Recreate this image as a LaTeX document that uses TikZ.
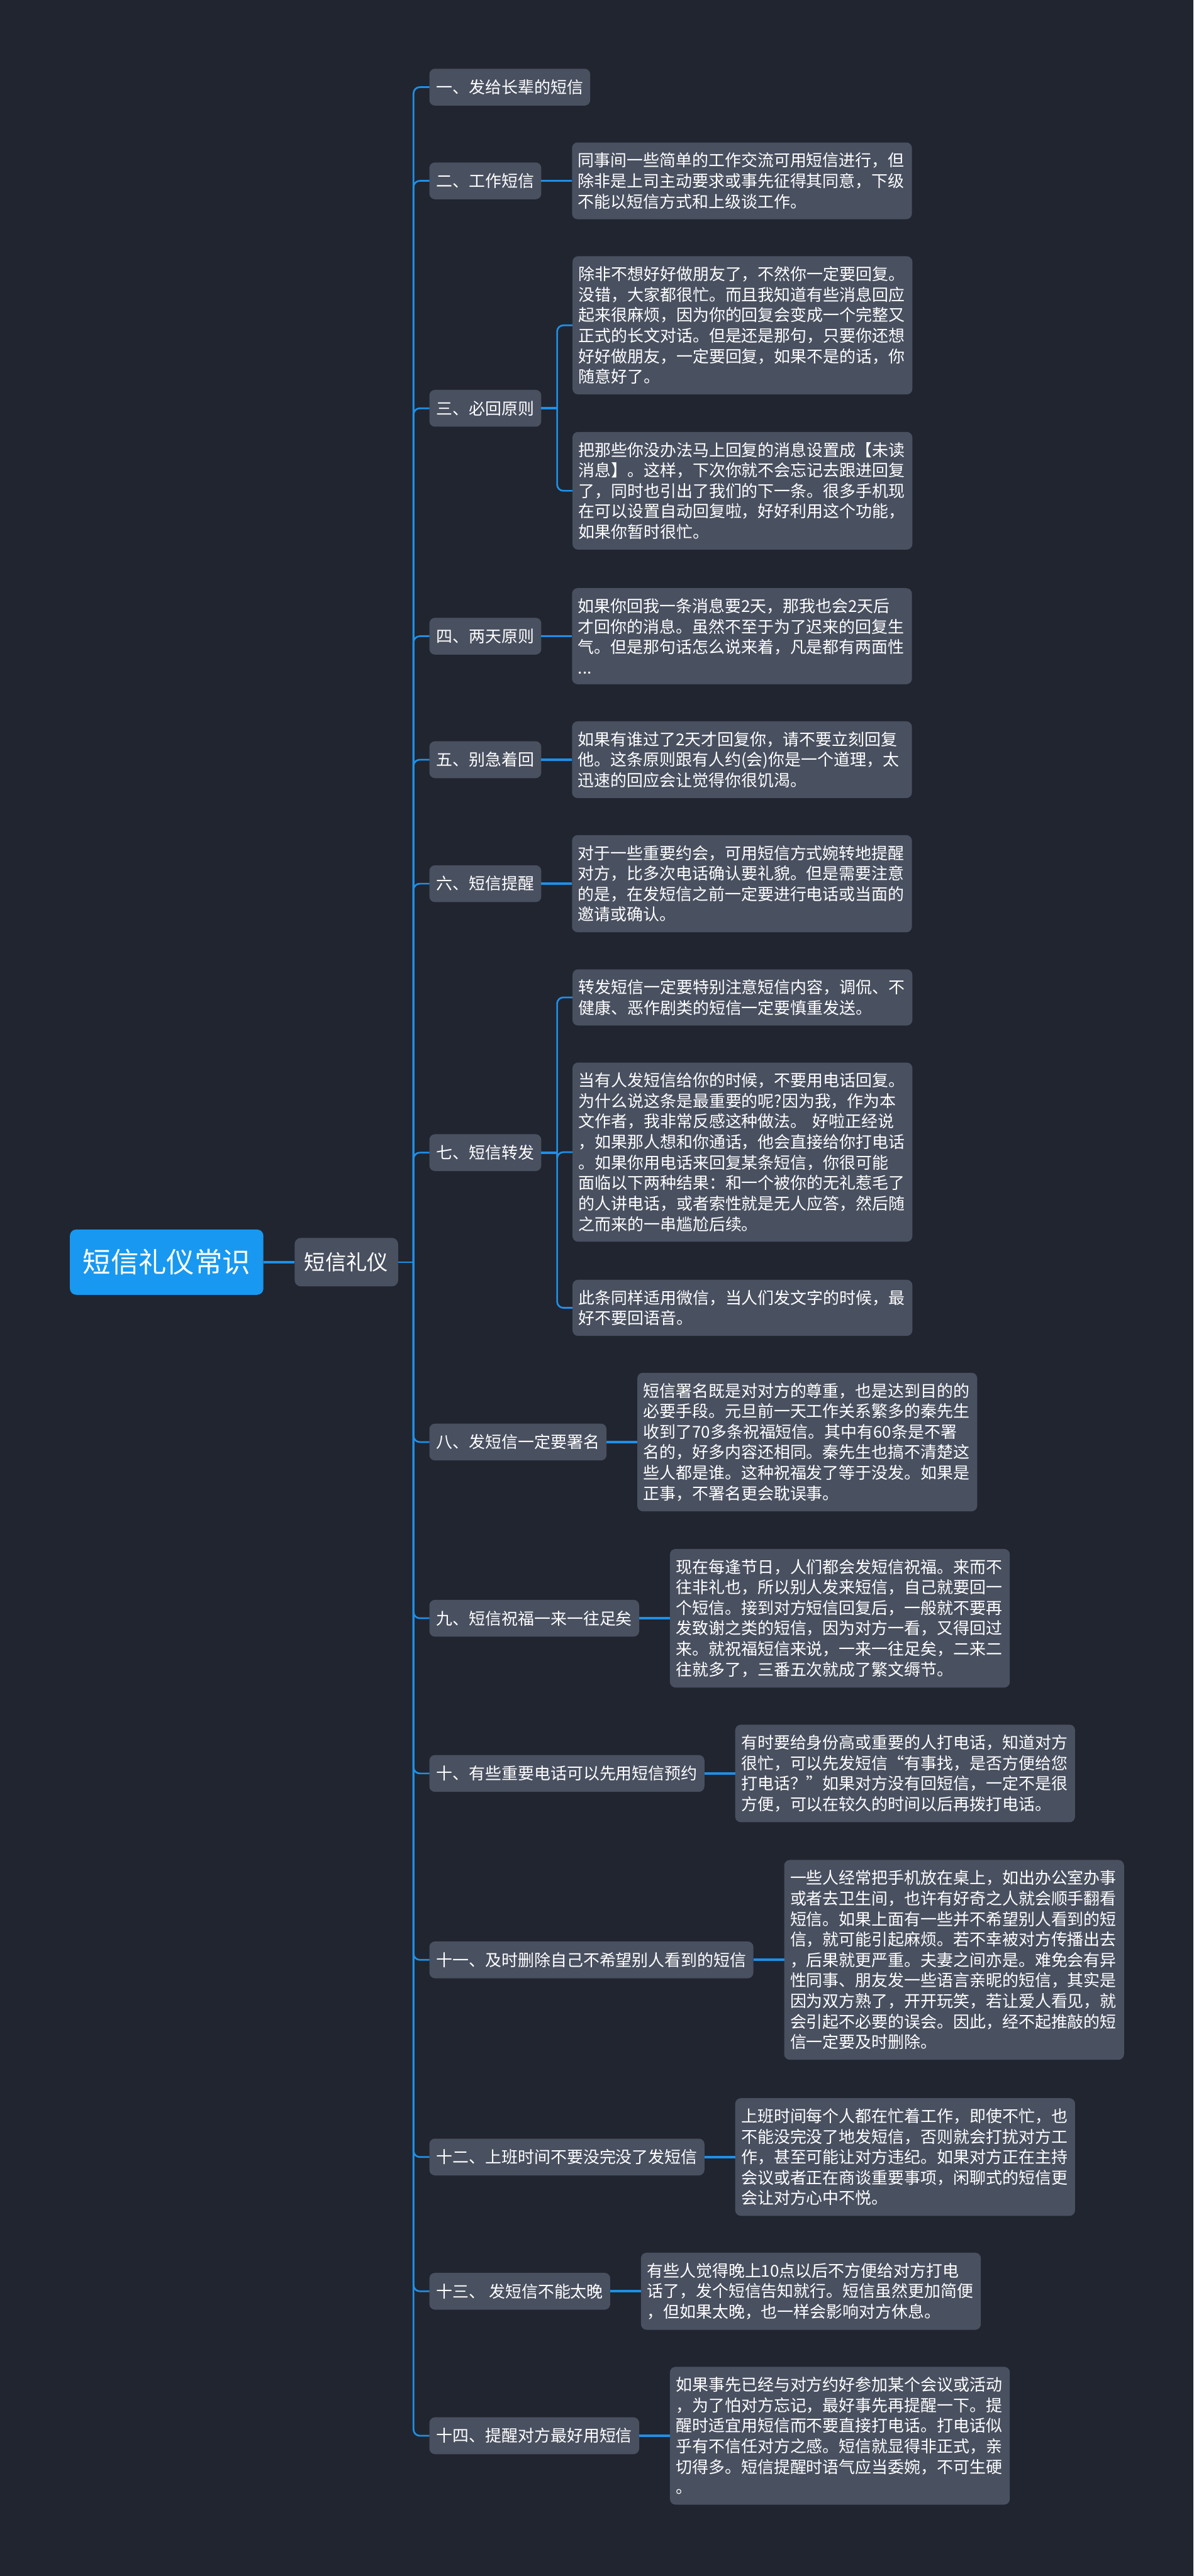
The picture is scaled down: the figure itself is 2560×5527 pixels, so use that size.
\documentclass[tikz,border=0pt]{standalone}
\usepackage{fontspec}
\newfontfamily\cjk{Noto Sans CJK SC}
\definecolor{bg}{RGB}{33,37,48}
\definecolor{boxc}{RGB}{73,80,96}
\definecolor{linec}{RGB}{30,144,230}
\definecolor{rootc}{RGB}{24,152,240}
\begin{document}
\begin{tikzpicture}[x=0.3pt,y=-0.3pt,
  every node/.style={inner sep=0pt, outer sep=0pt},
  rootbox/.style={fill=rootc, rounded corners=4pt, text=white, font=\cjk\fontsize{18}{22}\selectfont, minimum width=124.5pt, minimum height=42pt, anchor=west},
  secbox/.style={fill=boxc, rounded corners=4pt, text=white, font=\cjk\fontsize{13.5}{16}\selectfont, minimum width=66.6pt, minimum height=31.2pt, anchor=west},
  labbox/.style={fill=boxc, rounded corners=3.6pt, text=white, font=\cjk\fontsize{10.5}{13.2}\selectfont, inner xsep=4.5pt, minimum height=23.7pt, anchor=west},
  txtbox/.style={fill=boxc, rounded corners=3.6pt, text=white, font=\cjk\fontsize{10.5}{13.2}\selectfont, text width=211pt, align=left, inner xsep=3.85pt, inner ysep=6.6pt, anchor=west},
  trunk/.style={draw=linec, line width=1.1pt, rounded corners=4pt},
  twig/.style={draw=linec, line width=1.5pt},
  subtrunk/.style={draw=linec, line width=1.1pt, rounded corners=4pt},
]
\fill[bg] (0,0) rectangle (2560,5527);
\useasboundingbox (0,0) rectangle (2560,5527);

\node[rootbox] (root) at (150,2708) {短信礼仪常识};
\node[secbox] (sec) at (632,2708) {短信礼仪};
\coordinate (j) at (887,2708);

% level-2 labels
\node[labbox] (l1) at (921,187) {一、发给长辈的短信};
\node[labbox] (l2) at (921,388) {二、工作短信};
\node[labbox] (l3) at (921,876) {三、必回原则};
\node[labbox] (l4) at (921,1365) {四、两天原则};
\node[labbox] (l5) at (921,1630) {五、别急着回};
\node[labbox] (l6) at (921,1896) {六、短信提醒};
\node[labbox] (l7) at (921,2473) {七、短信转发};
\node[labbox] (l8) at (921,3094) {八、发短信一定要署名};
\node[labbox] (l9) at (921,3472) {九、短信祝福一来一往足矣};
\node[labbox] (l10) at (921,3805) {十、有些重要电话可以先用短信预约};
\node[labbox] (l11) at (921,4205) {十一、及时删除自己不希望别人看到的短信};
\node[labbox] (l12) at (921,4628) {十二、上班时间不要没完没了发短信};
\node[labbox] (l13) at (921,4916) {十三、 发短信不能太晚};
\node[labbox] (l14) at (921,5226) {十四、提醒对方最好用短信};

% contents
\node[txtbox] (c2) at ([xshift=19.8pt]l2.east) {同事间一些简单的工作交流可用短信进行，但\\除非是上司主动要求或事先征得其同意，下级\\不能以短信方式和上级谈工作。};
\node[txtbox] (c3a) at (1228,698) {除非不想好好做朋友了，不然你一定要回复。\\没错，大家都很忙。而且我知道有些消息回应\\起来很麻烦，因为你的回复会变成一个完整又\\正式的长文对话。但是还是那句，只要你还想\\好好做朋友，一定要回复，如果不是的话，你\\随意好了。};
\node[txtbox] (c3b) at (1228,1053) {把那些你没办法马上回复的消息设置成【未读\\消息】。这样，下次你就不会忘记去跟进回复\\了，同时也引出了我们的下一条。很多手机现\\在可以设置自动回复啦，好好利用这个功能，\\如果你暂时很忙。};
\node[txtbox] (c4) at ([xshift=19.8pt]l4.east) {如果你回我一条消息要2天，那我也会2天后\\才回你的消息。虽然不至于为了迟来的回复生\\气。但是那句话怎么说来着，凡是都有两面性\\...};
\node[txtbox] (c5) at ([xshift=19.8pt]l5.east) {如果有谁过了2天才回复你，请不要立刻回复\\他。这条原则跟有人约(会)你是一个道理，太\\迅速的回应会让觉得你很饥渴。};
\node[txtbox] (c6) at ([xshift=19.8pt]l6.east) {对于一些重要约会，可用短信方式婉转地提醒\\对方，比多次电话确认要礼貌。但是需要注意\\的是，在发短信之前一定要进行电话或当面的\\邀请或确认。};
\node[txtbox] (c7a) at (1228,2140) {转发短信一定要特别注意短信内容，调侃、不\\健康、恶作剧类的短信一定要慎重发送。};
\node[txtbox] (c7b) at (1228,2472) {当有人发短信给你的时候，不要用电话回复。\\为什么说这条是最重要的呢?因为我，作为本\\文作者，我非常反感这种做法。 好啦正经说\\，如果那人想和你通话，他会直接给你打电话\\。如果你用电话来回复某条短信，你很可能\\面临以下两种结果：和一个被你的无礼惹毛了\\的人讲电话，或者索性就是无人应答，然后随\\之而来的一串尴尬后续。};
\node[txtbox] (c7c) at (1228,2806) {此条同样适用微信，当人们发文字的时候，最\\好不要回语音。};
\node[txtbox] (c8) at ([xshift=19.8pt]l8.east) {短信署名既是对对方的尊重，也是达到目的的\\必要手段。元旦前一天工作关系繁多的秦先生\\收到了70多条祝福短信。其中有60条是不署\\名的，好多内容还相同。秦先生也搞不清楚这\\些人都是谁。这种祝福发了等于没发。如果是\\正事，不署名更会耽误事。};
\node[txtbox] (c9) at ([xshift=19.8pt]l9.east) {现在每逢节日，人们都会发短信祝福。来而不\\往非礼也，所以别人发来短信，自己就要回一\\个短信。接到对方短信回复后，一般就不要再\\发致谢之类的短信，因为对方一看，又得回过\\来。就祝福短信来说，一来一往足矣，二来二\\往就多了，三番五次就成了繁文缛节。};
\node[txtbox] (c10) at ([xshift=19.8pt]l10.east) {有时要给身份高或重要的人打电话，知道对方\\很忙，可以先发短信“有事找，是否方便给您\\打电话？”如果对方没有回短信，一定不是很\\方便，可以在较久的时间以后再拨打电话。};
\node[txtbox] (c11) at ([xshift=19.8pt]l11.east) {一些人经常把手机放在桌上，如出办公室办事\\或者去卫生间，也许有好奇之人就会顺手翻看\\短信。如果上面有一些并不希望别人看到的短\\信，就可能引起麻烦。若不幸被对方传播出去\\，后果就更严重。夫妻之间亦是。难免会有异\\性同事、朋友发一些语言亲昵的短信，其实是\\因为双方熟了，开开玩笑，若让爱人看见，就\\会引起不必要的误会。因此，经不起推敲的短\\信一定要及时删除。};
\node[txtbox] (c12) at ([xshift=19.8pt]l12.east) {上班时间每个人都在忙着工作，即使不忙，也\\不能没完没了地发短信，否则就会打扰对方工\\作，甚至可能让对方违纪。如果对方正在主持\\会议或者正在商谈重要事项，闲聊式的短信更\\会让对方心中不悦。};
\node[txtbox] (c13) at ([xshift=19.8pt]l13.east) {有些人觉得晚上10点以后不方便给对方打电\\话了，发个短信告知就行。短信虽然更加简便\\，但如果太晚，也一样会影响对方休息。};
\node[txtbox] (c14) at ([xshift=19.8pt]l14.east) {如果事先已经与对方约好参加某个会议或活动\\，为了怕对方忘记，最好事先再提醒一下。提\\醒时适宜用短信而不要直接打电话。打电话似\\乎有不信任对方之感。短信就显得非正式，亲\\切得多。短信提醒时语气应当委婉，不可生硬\\。};

% connectors
\draw[linec, line width=1.8pt] (root.east) -- (sec.west);
\draw[trunk] (sec.east) -- (j);
\foreach \k in {1,...,14} {
  \draw[trunk] (j) |- (l\k.west);
}
\foreach \k in {2,4,5,6,8,9,10,11,12,13,14} {
  \draw[twig] (l\k.east) -- (c\k.west);
}
\coordinate (k3) at ([xshift=10.2pt]l3.east);
\draw[twig] (l3.east) -- (k3);
\draw[subtrunk] (k3) |- (c3a.west);
\draw[subtrunk] (k3) |- (c3b.west);
\coordinate (k7) at ([xshift=10.2pt]l7.east);
\draw[twig] (l7.east) -- (k7);
\draw[subtrunk] (k7) |- (c7a.west);
\draw[subtrunk] (k7) |- (c7b.west);
\draw[subtrunk] (k7) |- (c7c.west);
\end{tikzpicture}
\end{document}
